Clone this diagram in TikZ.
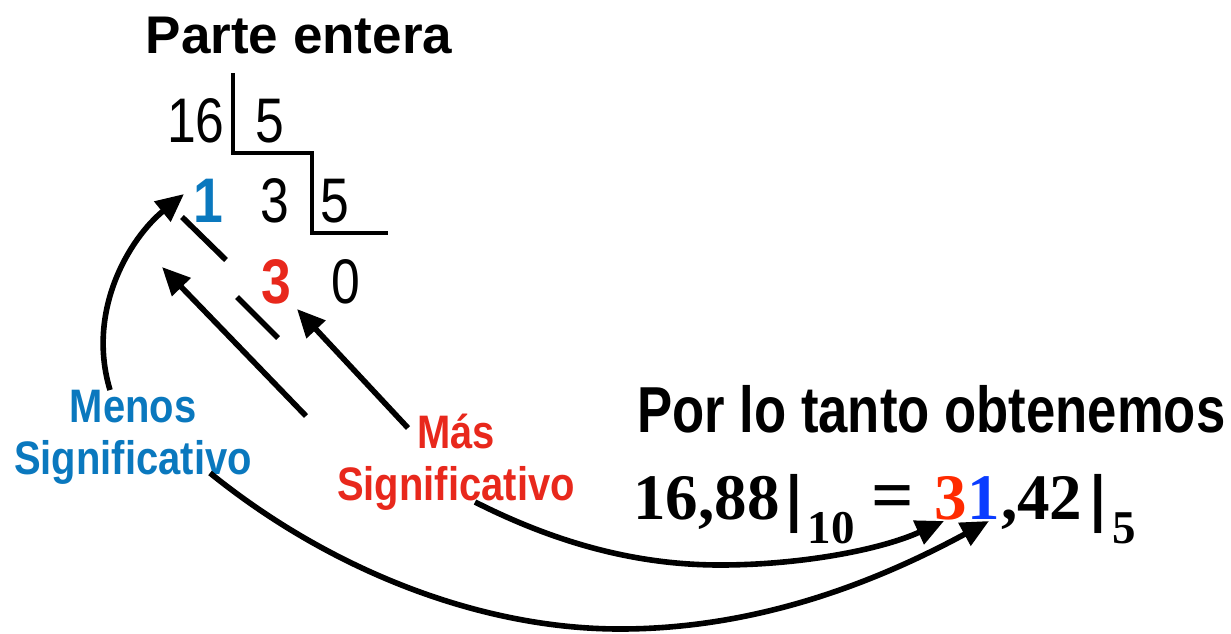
\documentclass[tikz,border=0pt]{standalone}
\usepackage{fontspec}
\setmainfont{Liberation Sans}
\newfontfamily\timesf{Liberation Serif}
\usetikzlibrary{arrows.meta}
\definecolor{lblue}{HTML}{0A78BE}
\definecolor{lred}{HTML}{E8281C}
\definecolor{eqred}{HTML}{FF2A00}
\definecolor{eqblue}{HTML}{0A3CFF}
\newcommand{\myfs}[1]{\fontsize{#1}{#1}\selectfont}
\begin{document}
\begin{tikzpicture}[x=0.5pt,y=-0.5pt,
  txt/.style={inner sep=0pt, anchor=base},
  digit/.style={txt, font=\myfs{31.5pt}, xscale=0.82},
  bdigit/.style={txt, font=\myfs{31.5pt}\bfseries, xscale=0.85},
  lbl/.style={txt, font=\myfs{23.5pt}\bfseries, xscale=0.85},
  eqf/.style={txt, font=\timesf\bfseries\myfs{32.5pt}},
  eqs/.style={txt, font=\timesf\bfseries\myfs{23.5pt}},
  arr/.style={line width=2.8pt, -{Triangle[length=14pt,width=12.5pt]}},
  seg/.style={line width=2.8pt},
  divline/.style={line width=2.2pt, line join=miter}]
\useasboundingbox (0,0) rectangle (1231,633);

% title
\node[txt, font=\myfs{26.5pt}\bfseries] (title) at (299,53) {Parte entera};

% division
\node[digit] (n16) at (196,142) {16};
\node[digit] (n5a) at (270,142) {5};
\node[bdigit, text=lblue] (n1) at (208,222) {1};
\node[digit] (n3) at (275,222) {3};
\node[digit] (n5b) at (335,222) {5};
\node[bdigit, text=lred] (n3r) at (276,303) {3};
\node[digit] (n0) at (346,303) {0};
\draw[divline] (233,73) -- (233,153) -- (312,153) -- (312,233) -- (388,233);

% labels
\node[lbl, text=lblue] (men1) at (133,422) {Menos};
\node[lbl, text=lblue] (men2) at (133,474) {Significativo};
\node[lbl, text=lred] (mas1) at (456,448) {Más};
\node[lbl, text=lred] (mas2) at (456,500) {Significativo};

% result
\node[txt, anchor=base west, font=\myfs{32.5pt}\bfseries, xscale=0.81] (por) at (637,432) {Por lo tanto obtenemos};
\node[eqf, anchor=base west] (e1) at (633,519) {16,88};
\node[eqf, xscale=1.5] (bar1) at (794,519) {|};
\node[eqs] (s10) at (831,543) {10};
\node[eqf, xscale=1.15, yscale=1.15] (eq) at (893,520) {=};
\node[eqf, anchor=base west, text=eqred] (d3) at (934,519) {3};
\node[eqf, anchor=base west, text=eqblue] (d1) at (d3.base east) {1};
\node[eqf, anchor=base west] (rest) at (d1.base east) {,42};
\node[eqf, xscale=1.5] (bar2) at (1098,519) {|};
\node[eqs] (s5) at (1124,543) {5};

% connector end points
\coordinate (a1s) at (110,390);
\coordinate (a1t) at (184,194);
\coordinate (a2s) at (306,416);
\coordinate (a2t) at (162,267);
\coordinate (a3s) at (408,428);
\coordinate (a3t) at (297,309);
\coordinate (c1s) at (210,473);
\coordinate (c1m) at (620,629);
\coordinate (c1t) at (989,521);
\coordinate (c2s) at (475,502);
\coordinate (c2m) at (720,565);
\coordinate (c2t) at (944,521);
\coordinate (s1a) at (182,217);
\coordinate (s1b) at (226,260);
\coordinate (s2a) at (237,297);
\coordinate (s2b) at (278,338);

% connectors
\draw[arr] (a1s) .. controls (86,310) and (130,238) .. (a1t);
\draw[arr] (a2s) -- (a2t);
\draw[arr] (a3s) -- (a3t);
\draw[seg] (s1a) -- (s1b);
\draw[seg] (s2a) -- (s2b);
\draw[arr] (c1s) .. controls (330,570) and (480,629) .. (c1m)
                 .. controls (760,629) and (880,580) .. (c1t);
\draw[arr] (c2s) .. controls (560,545) and (640,565) .. (c2m)
                 .. controls (800,565) and (880,550) .. (c2t);
\end{tikzpicture}
\end{document}
